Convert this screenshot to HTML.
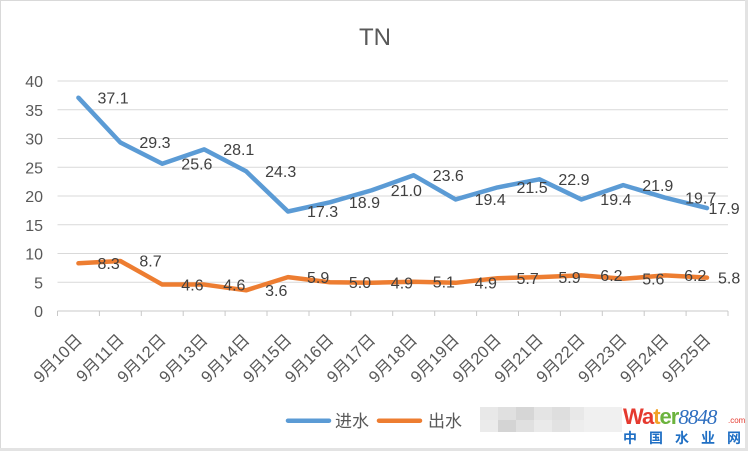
<!DOCTYPE html>
<html><head><meta charset="utf-8"><style>
html,body{margin:0;padding:0;background:#fff;}
svg{display:block;}
text{font-family:"Liberation Sans","Noto Sans CJK SC",sans-serif;}
</style></head><body>
<svg width="752" height="452" viewBox="0 0 752 452" xmlns="http://www.w3.org/2000/svg">
<rect x="0" y="0" width="752" height="452" fill="#fff"/>
<rect x="0.5" y="0.5" width="746" height="448" fill="none" stroke="#d9d9d9" stroke-width="1"/>
<rect x="745" y="0" width="3" height="451" fill="#e3e3e3"/>
<rect x="0" y="448" width="748" height="3" fill="#e3e3e3"/>

<text x="375" y="45" font-size="24" fill="#595959" text-anchor="middle">TN</text>

<g stroke="#d9d9d9" stroke-width="1">
<line x1="57.5" x2="728" y1="81" y2="81"/>
<line x1="57.5" x2="728" y1="109.75" y2="109.75"/>
<line x1="57.5" x2="728" y1="138.5" y2="138.5"/>
<line x1="57.5" x2="728" y1="167.25" y2="167.25"/>
<line x1="57.5" x2="728" y1="196" y2="196"/>
<line x1="57.5" x2="728" y1="224.75" y2="224.75"/>
<line x1="57.5" x2="728" y1="253.5" y2="253.5"/>
<line x1="57.5" x2="728" y1="282.25" y2="282.25"/>
</g>
<g stroke="#c8c8c8" stroke-width="1">
<line x1="57.5" x2="728" y1="311" y2="311"/>
<line x1="57.5" x2="57.5" y1="311" y2="316"/>
<line x1="99.4" x2="99.4" y1="311" y2="316"/>
<line x1="141.3" x2="141.3" y1="311" y2="316"/>
<line x1="183.2" x2="183.2" y1="311" y2="316"/>
<line x1="225.1" x2="225.1" y1="311" y2="316"/>
<line x1="267" x2="267" y1="311" y2="316"/>
<line x1="309" x2="309" y1="311" y2="316"/>
<line x1="350.8" x2="350.8" y1="311" y2="316"/>
<line x1="392.7" x2="392.7" y1="311" y2="316"/>
<line x1="434.7" x2="434.7" y1="311" y2="316"/>
<line x1="476.6" x2="476.6" y1="311" y2="316"/>
<line x1="518.5" x2="518.5" y1="311" y2="316"/>
<line x1="560.4" x2="560.4" y1="311" y2="316"/>
<line x1="602.3" x2="602.3" y1="311" y2="316"/>
<line x1="644.2" x2="644.2" y1="311" y2="316"/>
<line x1="686.1" x2="686.1" y1="311" y2="316"/>
<line x1="728" x2="728" y1="311" y2="316"/>
</g>

<g font-size="16" fill="#595959" text-anchor="end">
<text x="43" y="87">40</text>
<text x="43" y="115.75">35</text>
<text x="43" y="144.5">30</text>
<text x="43" y="173.25">25</text>
<text x="43" y="202">20</text>
<text x="43" y="230.75">15</text>
<text x="43" y="259.5">10</text>
<text x="43" y="288.25">5</text>
<text x="43" y="317">0</text>
</g>

<g font-size="16.5" fill="#595959" text-anchor="end">
<text transform="translate(83,341) rotate(-45)">9月10日</text>
<text transform="translate(124.9,341) rotate(-45)">9月11日</text>
<text transform="translate(166.8,341) rotate(-45)">9月12日</text>
<text transform="translate(208.7,341) rotate(-45)">9月13日</text>
<text transform="translate(250.6,341) rotate(-45)">9月14日</text>
<text transform="translate(292.5,341) rotate(-45)">9月15日</text>
<text transform="translate(334.4,341) rotate(-45)">9月16日</text>
<text transform="translate(376.3,341) rotate(-45)">9月17日</text>
<text transform="translate(418.2,341) rotate(-45)">9月18日</text>
<text transform="translate(460.1,341) rotate(-45)">9月19日</text>
<text transform="translate(502,341) rotate(-45)">9月20日</text>
<text transform="translate(543.9,341) rotate(-45)">9月21日</text>
<text transform="translate(585.8,341) rotate(-45)">9月22日</text>
<text transform="translate(627.7,341) rotate(-45)">9月23日</text>
<text transform="translate(669.6,341) rotate(-45)">9月24日</text>
<text transform="translate(711.5,341) rotate(-45)">9月25日</text>
</g>

<polyline fill="none" stroke="#5b9bd5" stroke-width="4.5" stroke-linejoin="round" stroke-linecap="round"
points="78.45,97.7 120.36,142.5 162.27,163.8 204.17,149.4 246.08,171.3 287.98,211.5 329.89,202.3 371.8,190.25 413.7,175.3 455.6,199.45 497.5,187.4 539.4,179.3 581.3,199.45 623.2,185.1 665.1,197.7 707,208.1"/>
<polyline fill="none" stroke="#ed7d31" stroke-width="4.5" stroke-linejoin="round" stroke-linecap="round"
points="78.45,263.3 120.36,261 162.27,284.55 204.17,284.55 246.08,290.3 287.98,277.1 329.89,282.25 371.8,282.8 413.7,281.7 455.6,282.8 497.5,278.2 539.4,277.1 581.3,275.35 623.2,278.8 665.1,275.35 707,277.65"/>

<g font-size="16" fill="#404040">
<text x="97.5" y="103.4">37.1</text>
<text x="139.4" y="148.2">29.3</text>
<text x="181.3" y="169.5">25.6</text>
<text x="223.2" y="155.1">28.1</text>
<text x="265.1" y="177">24.3</text>
<text x="307" y="217.2">17.3</text>
<text x="348.9" y="208">18.9</text>
<text x="390.8" y="196">21.0</text>
<text x="432.7" y="181">23.6</text>
<text x="474.6" y="205.2">19.4</text>
<text x="516.5" y="193.1">21.5</text>
<text x="558.4" y="185">22.9</text>
<text x="600.3" y="205.2">19.4</text>
<text x="642.2" y="190.8">21.9</text>
<text x="685.1" y="203.4">19.7</text>
<text x="708.5" y="213.8">17.9</text>

<text x="97.5" y="269">8.3</text>
<text x="139.4" y="266.7">8.7</text>
<text x="181.3" y="290.3">4.6</text>
<text x="223.2" y="290.3">4.6</text>
<text x="265.1" y="296">3.6</text>
<text x="307" y="282.8">5.9</text>
<text x="348.9" y="288">5.0</text>
<text x="390.8" y="288.5">4.9</text>
<text x="432.7" y="287.4">5.1</text>
<text x="474.6" y="288.5">4.9</text>
<text x="516.5" y="283.9">5.7</text>
<text x="558.4" y="282.8">5.9</text>
<text x="600.3" y="281">6.2</text>
<text x="642.2" y="284.5">5.6</text>
<text x="684.1" y="281">6.2</text>
<text x="718" y="283.4">5.8</text>
</g>

<line x1="288" y1="420.7" x2="329" y2="420.7" stroke="#5b9bd5" stroke-width="4.5" stroke-linecap="round"/>
<text x="335" y="427" font-size="17" fill="#595959">进水</text>
<line x1="379" y1="420.7" x2="420" y2="420.7" stroke="#ed7d31" stroke-width="4.5" stroke-linecap="round"/>
<text x="428" y="427" font-size="17" fill="#595959">出水</text>

<g>
<rect x="480" y="407" width="18" height="13" fill="#e8e8e8"/>
<rect x="498" y="407" width="18" height="13" fill="#e0e0e0"/>
<rect x="516" y="407" width="18" height="13" fill="#d6d6d6"/>
<rect x="534" y="407" width="18" height="13" fill="#e4e4e4"/>
<rect x="552" y="407" width="18" height="13" fill="#dedede"/>
<rect x="570" y="407" width="14" height="13" fill="#e8e8e8"/>
<rect x="480" y="420" width="18" height="12" fill="#ebebeb"/>
<rect x="498" y="420" width="18" height="12" fill="#d4d4d4"/>
<rect x="516" y="420" width="18" height="12" fill="#e0e0e0"/>
<rect x="534" y="420" width="18" height="12" fill="#eaeaea"/>
<rect x="552" y="420" width="18" height="12" fill="#e2e2e2"/>
<rect x="570" y="420" width="14" height="12" fill="#ededed"/>
<rect x="584" y="407" width="38" height="25" fill="#f0f0f0"/>
</g>

<text x="623" y="424" font-size="22" font-weight="bold" letter-spacing="-1"><tspan fill="#e53a2f">Wa</tspan><tspan fill="#f2a227">t</tspan><tspan fill="#6cb33e">er</tspan><tspan fill="#2f6fc0" font-style="italic" font-weight="normal" font-size="21" font-family="Liberation Serif, serif">8848</tspan></text>
<text x="728" y="423" font-size="8" fill="#e53a2f">.com</text>
<text x="623" y="443" font-size="14" font-weight="bold" fill="#1f6fc4" letter-spacing="12">中国水业网</text>
</svg>
</body></html>
